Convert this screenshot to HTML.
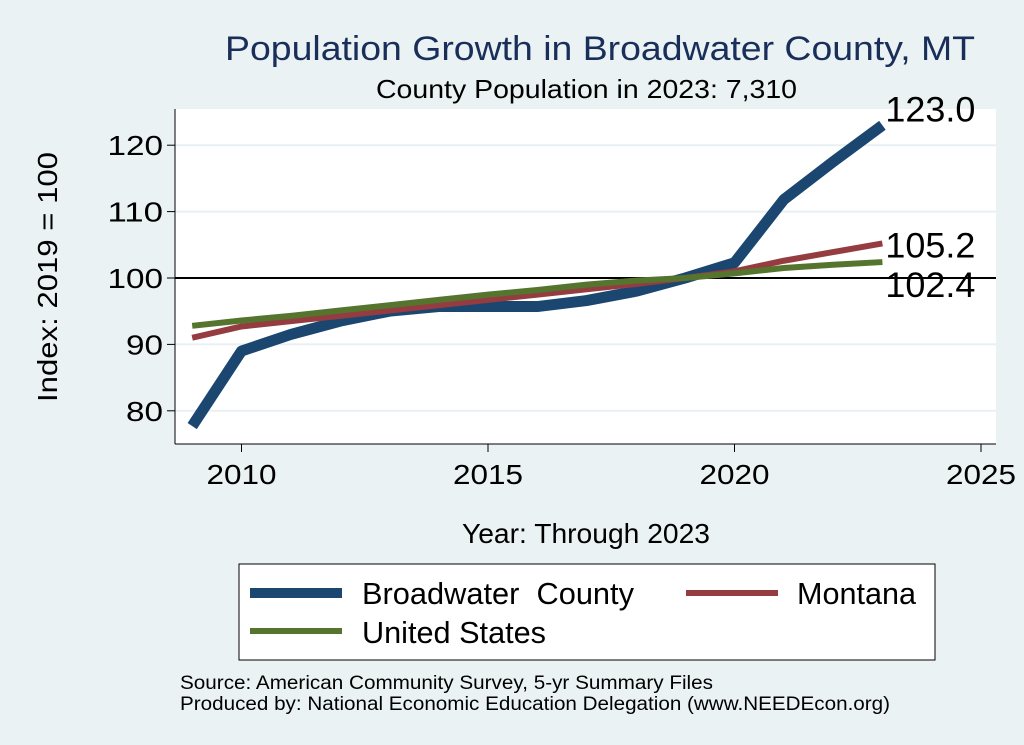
<!DOCTYPE html>
<html><head><meta charset="utf-8"><style>
body{margin:0;background:#eaf2f3;}
svg{display:block;font-family:"Liberation Sans",sans-serif;}
</style></head><body>
<svg width="1024" height="745" viewBox="0 0 1024 745">
<rect width="1024" height="745" fill="#eaf2f3"/>
<text x="225" y="60" font-size="34" textLength="750" lengthAdjust="spacingAndGlyphs" fill="#1a2e5a">Population Growth in Broadwater County, MT</text>
<text x="376" y="98" font-size="26" textLength="421" lengthAdjust="spacingAndGlyphs" fill="#000">County Population in 2023: 7,310</text>
<rect x="175" y="109" width="821" height="335" fill="#fff"/>
<g id="grid"></g>
<g id="axes"></g>
<g id="series"></g>
<text x="57" y="277" text-anchor="middle" font-size="28" textLength="250" lengthAdjust="spacingAndGlyphs" transform="rotate(-90 57 277)">Index: 2019 = 100</text>
<text x="462" y="543" font-size="28" textLength="248" lengthAdjust="spacingAndGlyphs">Year: Through 2023</text>
<g>
<rect x="239" y="564" width="696" height="96" fill="#fff" stroke="#000" stroke-width="1"/>
<g><line x1="250" y1="593" x2="342" y2="593" stroke="#1a4670" stroke-width="10"/><text x="362" y="604" font-size="31" textLength="272" lengthAdjust="spacingAndGlyphs" xml:space="preserve">Broadwater  County</text></g>
<g><line x1="686" y1="593" x2="778" y2="593" stroke="#943c3f" stroke-width="6"/><text x="797" y="604" font-size="31" textLength="119" lengthAdjust="spacingAndGlyphs">Montana</text></g>
<g><line x1="250" y1="631" x2="342" y2="631" stroke="#55752f" stroke-width="6"/><text x="362" y="643" font-size="31" textLength="184" lengthAdjust="spacingAndGlyphs">United States</text></g>
</g>
<text x="180" y="689" font-size="19" textLength="533" lengthAdjust="spacingAndGlyphs">Source: American Community Survey, 5-yr Summary Files</text>
<text x="180" y="710" font-size="19" textLength="710" lengthAdjust="spacingAndGlyphs">Produced by: National Economic Education Delegation (www.NEEDEcon.org)</text>
</svg>
<script>
const years=[2009,2010,2011,2012,2013,2014,2015,2016,2017,2018,2019,2020,2021,2022,2023];
const broadwater=[77.7,89,91.5,93.5,95,95.7,95.7,95.7,96.6,98,100,102.3,111.8,117.5,123];
const montana=[91,92.7,93.5,94.3,95.1,95.9,96.7,97.5,98.3,99.1,100,101,102.6,103.9,105.2];
const us=[92.8,93.6,94.3,95.1,95.9,96.7,97.5,98.2,99,99.6,100,100.7,101.5,102,102.4];
const xTicks=[2010,2015,2020,2025];
const yTicks=[80,90,100,110,120];
const NS="http://www.w3.org/2000/svg";
const xs=y=>241.5+(y-2010)*49.3;
const ys=v=>278-(v-100)*6.64;
function mk(tag,attrs,parent){const e=document.createElementNS(NS,tag);for(const k in attrs)e.setAttribute(k,attrs[k]);parent.appendChild(e);return e;}
const grid=document.getElementById('grid'),axes=document.getElementById('axes'),ser=document.getElementById('series');
yTicks.forEach(t=>{
 const g=mk('line',{x1:175,x2:996,y1:ys(t),y2:ys(t),stroke:'#e8f0f2','stroke-width':2},grid);
 
 
 const tk=mk('line',{x1:167,x2:175,y1:ys(t),y2:ys(t),stroke:'#000'},axes);
 
 
 const tx=mk('text',{x:163,y:ys(t)+10,'text-anchor':'end','font-size':28,textLength:String(t).length*18.5,lengthAdjust:'spacingAndGlyphs'},axes);tx.textContent=t;
 
 
});
xTicks.forEach(t=>{
 const tk=mk('line',{x1:xs(t),x2:xs(t),y1:444,y2:452,stroke:'#000'},axes);
 
 
 const tx=mk('text',{x:xs(t),y:484,'text-anchor':'middle','font-size':28,textLength:70,lengthAdjust:'spacingAndGlyphs'},axes);tx.textContent=t;
 
 
});
const ya=mk('line',{x1:175,x2:175,y1:109,y2:444,stroke:'#000'},axes);


const xa=mk('line',{x1:175,x2:996,y1:444,y2:444,stroke:'#000'},axes);


const ref=mk('line',{x1:175,x2:996,y1:ys(100),y2:ys(100),stroke:'#000','stroke-width':2},axes);


function line(vals,color,w,name){
 const p=mk('polyline',{points:vals.map((v,i)=>xs(years[i])+','+ys(v)).join(' '),fill:'none',stroke:color,'stroke-width':w,'stroke-linejoin':'round'},ser);
 
 
}
line(broadwater,'#1a4670',11,'line-broadwater');
line(montana,'#943c3f',6,'line-montana');
line(us,'#55752f',6,'line-us');
const last=years.length-1;
const labels=[[broadwater,-4,'label-broadwater-end'],[montana,14,'label-montana-end'],[us,35,'label-us-end']];
labels.forEach(([arr,dy,nm])=>{
 const t=mk('text',{x:xs(years[last])+3,y:ys(arr[last])+dy,'font-size':35,textLength:90,lengthAdjust:'spacingAndGlyphs'},ser);
 t.textContent=arr[last].toFixed(1);
 
 
});
</script>
</body></html>
